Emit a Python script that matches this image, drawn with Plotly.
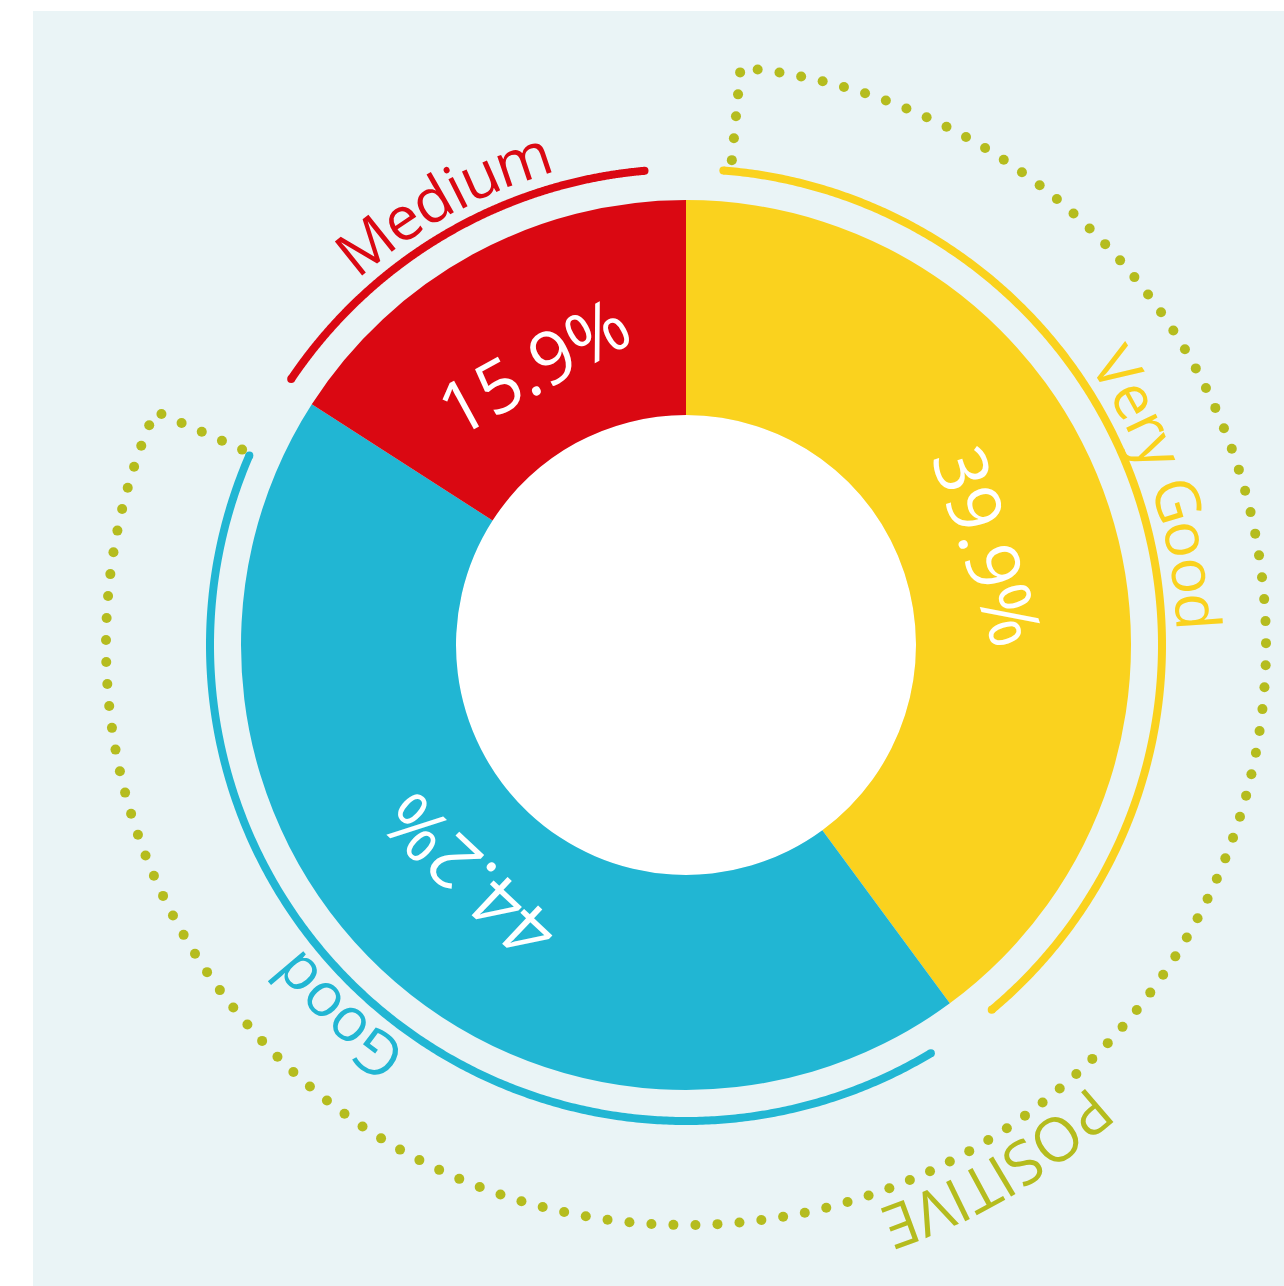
import numpy as np
import plotly.graph_objects as go

# ---------------- data ----------------
categories = ["Very Good", "Good", "Medium"]
shares = [39.9, 44.2, 15.9]
colors = ["#FAD21E", "#21B6D3", "#DA0812"]
group_label = "POSITIVE"
group_members = ["Very Good", "Good"]
group_color = "#B5BC1E"

# ---------------- layout constants (pixels) ----------------
W, H = 1284, 1286
CX, CY = 686, 645
R_OUT, R_IN = 445, 230
R_ARC = 476          # coloured arcs
R_DOT = 580          # dotted bracket
R_PCT = 320          # percentage labels
R_CAT = 514          # category labels (char centres)
R_GRP = 620          # group label
FONT = "Open Sans"
FW = 400
FS_CAT = 61
FS_PCT = 73
ARC_W = 8
BG = "#EAF4F6"
# padding (deg) of each coloured arc inside its slice: (start, end)
ARC_PAD = {"Very Good": (4.5, 3.6), "Good": (5.4, 9.3), "Medium": (1.2, 5.0)}
DOT_PAD = (5.8, 9.8)   # bracket padding inside group span
DOT_STEP = 22

# approximate glyph advance widths (em) for Open Sans
CW = {' ': .26, 'A': .633, 'B': .648, 'C': .631, 'D': .729, 'E': .556, 'F': .516,
      'G': .728, 'H': .738, 'I': .279, 'J': .267, 'K': .614, 'L': .519, 'M': .903,
      'N': .754, 'O': .779, 'P': .602, 'Q': .779, 'R': .618, 'S': .549, 'T': .553,
      'U': .728, 'V': .595, 'W': .926, 'X': .577, 'Y': .56, 'Z': .571,
      'a': .556, 'b': .613, 'c': .476, 'd': .613, 'e': .561, 'f': .336, 'g': .548,
      'h': .615, 'i': .252, 'j': .252, 'k': .525, 'l': .252, 'm': .93, 'n': .615,
      'o': .6, 'p': .613, 'q': .613, 'r': .408, 's': .477, 't': .353, 'u': .615,
      'v': .501, 'w': .778, 'x': .524, 'y': .501, 'z': .463}


def pt(theta, r):
    t = np.radians(theta)
    return CX + r * np.sin(t), CY - r * np.cos(t)


def norm_angle(a):
    return ((a + 180.0) % 360.0) - 180.0


# slice angles
bounds = np.concatenate([[0], np.cumsum(shares)]) / sum(shares) * 360.0
starts = dict(zip(categories, bounds[:-1]))
ends = dict(zip(categories, bounds[1:]))
mids = {c: (starts[c] + ends[c]) / 2 for c in categories}

fig = go.Figure()

fig.add_trace(go.Pie(
    values=shares, labels=categories, sort=False, direction="clockwise", rotation=0,
    hole=R_IN / R_OUT, textinfo="none", hoverinfo="skip", showlegend=False,
    marker=dict(colors=colors, line=dict(width=0)),
    domain=dict(x=[(CX - R_OUT) / W, (CX + R_OUT) / W],
                y=[1 - (CY + R_OUT) / H, 1 - (CY - R_OUT) / H]),
))

# coloured arcs
for c, col in zip(categories, colors):
    a0 = starts[c] + ARC_PAD[c][0]
    a1 = ends[c] - ARC_PAD[c][1]
    th = np.linspace(a0, a1, 400)
    xs, ys = pt(th, R_ARC)
    fig.add_trace(go.Scatter(x=xs, y=ys, mode="lines",
                             line=dict(color=col, width=ARC_W, simplify=False),
                             hoverinfo="skip", showlegend=False))
    fig.add_trace(go.Scatter(x=[xs[0], xs[-1]], y=[ys[0], ys[-1]], mode="markers",
                             marker=dict(color=col, size=ARC_W), hoverinfo="skip",
                             showlegend=False))

# dotted bracket for the group
g0 = min(starts[c] for c in group_members) + DOT_PAD[0]
g1 = max(ends[c] for c in group_members) - DOT_PAD[1]
path = []
for r in np.linspace(R_ARC + 11, R_DOT, 20):
    path.append(pt(g0 - 0.4, r))
for th in np.linspace(g0, g1, 1500):
    path.append(pt(th, R_DOT))
for r in np.linspace(R_DOT, R_ARC + 9, 20):
    path.append(pt(g1 + 0.8, r))
path = np.array(path)
seg = np.hypot(np.diff(path[:, 0]), np.diff(path[:, 1]))
cum = np.concatenate([[0], np.cumsum(seg)])
n = int(round(cum[-1] / DOT_STEP))
s = np.linspace(0, cum[-1], n + 1)
dx = np.interp(s, cum, path[:, 0])
dy = np.interp(s, cum, path[:, 1])
fig.add_trace(go.Scatter(x=dx, y=dy, mode="markers",
                         marker=dict(color=group_color, size=10),
                         hoverinfo="skip", showlegend=False))

annotations = []


def curved_text(text, center, r, fs, color):
    widths = [CW.get(ch, 0.6) for ch in text]
    total = sum(widths) * fs / r  # radians
    start = np.radians(center) - total / 2
    acc = 0.0
    for ch, w in zip(text, widths):
        th = np.degrees(start + (acc + w / 2) * fs / r)
        acc += w
        if ch == " ":
            continue
        x, y = pt(th, r)
        annotations.append(dict(x=x, y=y, xref="x", yref="y", text=ch, showarrow=False,
                                xanchor="center", yanchor="middle",
                                textangle=norm_angle(th),
                                font=dict(family=FONT, size=fs, color=color, weight=FW)))


for c, col, v in zip(categories, colors, shares):
    curved_text(c, mids[c], R_CAT, FS_CAT, col)
    x, y = pt(mids[c], R_PCT)
    annotations.append(dict(x=x, y=y, xref="x", yref="y", text=f"{v:.1f}%",
                            showarrow=False, xanchor="center", yanchor="middle",
                            textangle=norm_angle(mids[c]),
                            font=dict(family=FONT, size=FS_PCT, color="white", weight=FW)))

curved_text(group_label, (g0 + g1) / 2, R_GRP, FS_CAT, group_color)

shapes = [
    dict(type="rect", xref="x", yref="y", x0=33, y0=11, x1=W, y1=H,
         fillcolor=BG, line=dict(width=0), layer="below"),
    dict(type="circle", xref="x", yref="y", x0=CX - R_IN, y0=CY - R_IN,
         x1=CX + R_IN, y1=CY + R_IN, fillcolor="white", line=dict(width=0),
         layer="below"),
]

fig.update_layout(
    width=W, height=H, margin=dict(l=0, r=0, t=0, b=0, pad=0),
    paper_bgcolor="white", plot_bgcolor="rgba(0,0,0,0)",
    xaxis=dict(range=[0, W], visible=False, fixedrange=True, domain=[0, 1]),
    yaxis=dict(range=[H, 0], visible=False, fixedrange=True, domain=[0, 1]),
    shapes=shapes, annotations=annotations, showlegend=False,
)

fig.write_html("out.html")
